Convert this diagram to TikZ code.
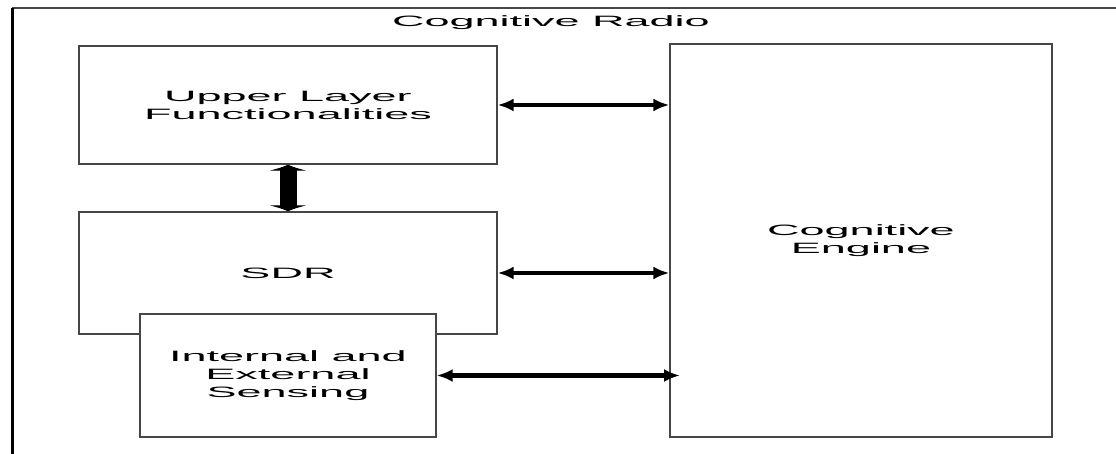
\documentclass[tikz,border=0pt]{standalone}
\usepackage{fontspec}
\newfontfamily\diagfont[FakeStretch=3.0]{Liberation Sans}
\usetikzlibrary{arrows.meta, positioning}
\definecolor{crEdge}{RGB}{70, 70, 70}

\begin{document}
\begin{tikzpicture}[x=1pt, y=-1pt, every node/.style={font=\diagfont\fontsize{15}{18}\selectfont, align=center},
    crbox/.style={draw=crEdge, line width=1.3pt, fill=white, inner sep=0pt},
    hlink/.style={{Latex[length=16pt, width=13pt]}-{Latex[length=16pt, width=13pt]}, line width=4.5pt},
    vlink/.style={{Latex[length=6pt, width=40pt]}-{Latex[length=6pt, width=40pt]}, line width=17pt}]
                    \useasboundingbox (0,0) rectangle (1116,454);
                    % outer frame, cut at right and bottom
                    \coordinate (frameTL) at (12,8);
                    \coordinate (frameTR) at (1116,8);
                    \coordinate (frameBL) at (12,454);
                    \draw[line width=1.5pt, crEdge] (frameTL) -- (frameTR);
                    \draw[line width=3pt] (frameTL) -- (frameBL);
                    \node (title) at (551,23) {Cognitive Radio};
                    % blocks
                    \node[crbox, minimum width=418pt, minimum height=118pt] (upper) at (288,105) {Upper Layer\\Functionalities};
                    \node[crbox, minimum width=418pt, minimum height=122pt] (sdr) at (288,273) {SDR};
                    \node[crbox, minimum width=296pt, minimum height=123pt] (sensing) at (288,375.5) {Internal and\\External\\Sensing};
                    \node[crbox, minimum width=382pt, minimum height=393pt] (engine) at (861,240.5) {Cognitive\\Engine};
                    % links
                    \coordinate (senseTip) at (680,375.5);
                    \draw[hlink] (upper.east) -- (engine.west |- upper.east);
                    \draw[hlink] (sdr.east) -- (engine.west |- sdr.east);
                    \draw[hlink] (sensing.east) -- (senseTip);
                    \draw[vlink] (upper.south) -- (sdr.north);
                \end{tikzpicture}
\end{document}
